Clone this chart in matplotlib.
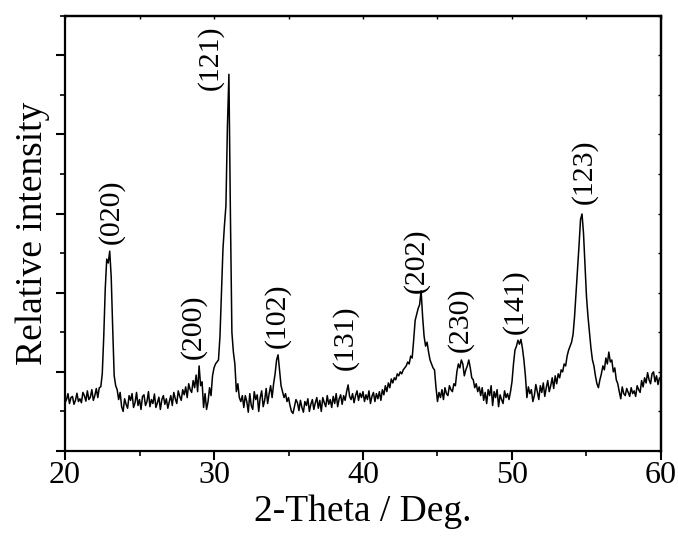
import numpy as np
import matplotlib
matplotlib.use("Agg")
import matplotlib.pyplot as plt
from matplotlib.ticker import MultipleLocator, NullFormatter

# XRD pattern, 2-theta from 20.0 to 60.0 deg in 0.1 deg steps
theta_start = 20.0
theta_step = 0.1
intensity = [
    1.22,1.30,1.45,1.20,1.35,1.38,1.18,1.28,1.46,1.25,   # 20
    1.32,1.22,1.48,1.40,1.26,1.52,1.30,1.36,1.55,1.28,   # 21
    1.40,1.58,1.35,1.60,1.62,1.95,2.90,4.10,4.85,4.75,   # 22
    5.05,4.40,3.10,1.90,1.65,1.55,1.30,1.48,1.12,1.00,   # 23
    1.32,1.18,1.08,1.40,1.28,1.45,1.10,1.22,1.48,1.15,   # 24
    1.30,1.05,1.38,1.42,1.15,1.25,1.50,1.12,1.30,1.20,   # 25
    1.44,1.10,1.22,1.36,1.05,1.30,1.40,1.18,1.32,1.08,   # 26
    1.25,1.40,1.15,1.48,1.32,1.20,1.52,1.38,1.28,1.55,   # 27
    1.42,1.62,1.35,1.70,1.55,1.48,1.78,1.60,1.92,1.50,   # 28
    2.15,1.65,1.75,1.10,1.45,1.05,1.25,1.60,1.40,1.90,   # 29
    2.10,2.20,2.25,2.30,2.90,4.00,5.10,5.70,6.20,8.20,   # 30
    9.52,6.00,3.00,2.50,2.20,1.50,1.70,1.35,1.25,1.40,   # 31
    1.10,1.40,1.25,0.98,1.45,1.15,1.05,1.50,1.30,1.42,   # 32
    1.00,1.35,1.52,1.12,1.28,1.58,1.20,1.45,1.65,1.35,   # 33
    1.70,1.95,2.30,2.43,2.05,1.65,1.50,1.35,1.45,1.25,   # 34
    1.35,1.15,1.00,0.95,1.12,1.30,1.22,1.02,1.28,1.10,   # 35
    0.98,1.25,1.15,1.32,1.00,1.18,1.30,1.05,1.22,1.35,   # 36
    1.08,1.28,1.00,1.35,1.22,1.12,1.40,1.18,1.30,1.10,   # 37
    1.38,1.20,1.45,1.12,1.32,1.42,1.18,1.40,1.28,1.50,   # 38
    1.67,1.38,1.30,1.45,1.22,1.40,1.52,1.28,1.46,1.35,   # 39
    1.50,1.25,1.42,1.30,1.52,1.20,1.38,1.48,1.25,1.45,   # 40
    1.32,1.50,1.28,1.55,1.42,1.65,1.50,1.72,1.60,1.82,   # 41
    1.72,1.85,1.80,1.95,1.90,2.00,1.95,2.05,2.10,2.15,   # 42
    2.25,2.20,2.40,2.35,2.80,3.30,3.45,3.60,3.70,4.05,   # 43
    3.40,2.90,2.65,2.75,2.50,2.30,2.20,2.10,2.05,1.60,   # 44
    1.25,1.48,1.35,1.55,1.30,1.60,1.45,1.40,1.65,1.55,   # 45
    1.50,1.70,1.65,2.00,2.20,2.10,2.30,2.20,1.90,2.05,   # 46
    2.15,2.30,2.10,1.85,1.80,1.60,1.70,1.50,1.62,1.40,   # 47
    1.60,1.28,1.48,1.20,1.55,1.40,1.65,1.15,1.50,1.35,   # 48
    1.55,1.12,1.42,1.30,1.20,1.52,1.35,1.45,1.30,1.50,   # 49
    1.75,2.20,2.55,2.65,2.80,2.70,2.82,2.60,2.30,1.90,   # 50
    1.35,1.62,1.45,1.55,1.25,1.40,1.68,1.50,1.30,1.65,   # 51
    1.48,1.72,1.38,1.60,1.78,1.50,1.65,1.85,1.58,1.90,   # 52
    1.70,1.95,1.85,2.05,2.00,2.20,2.15,2.40,2.55,2.65,   # 53
    2.75,2.95,3.40,4.00,4.60,5.20,5.85,5.99,5.50,4.70,   # 54
    3.90,3.40,3.00,2.60,2.30,2.15,1.90,1.70,1.60,1.80,   # 55
    1.95,2.15,2.05,2.35,2.20,2.50,2.25,2.30,2.00,2.10,   # 56
    1.80,1.70,1.50,1.32,1.62,1.45,1.40,1.58,1.48,1.38,   # 57
    1.60,1.45,1.52,1.38,1.65,1.55,1.48,1.78,1.62,1.85,   # 58
    1.72,1.98,1.80,1.70,1.95,2.00,1.75,1.90,1.68,1.85,   # 59
    1.82,                                                # 60
]
two_theta = theta_start + theta_step * np.arange(len(intensity))

# Peak labels (Miller indices) and their anchor positions (2-theta, intensity)
peak_labels = ["(020)", "(200)", "(121)", "(102)", "(131)", "(202)", "(230)", "(141)", "(123)"]
peak_label_x = [23.1, 28.6, 29.75, 34.25, 38.8, 43.55, 46.55, 50.25, 54.85]
peak_label_y = [6.04, 3.14, 9.93, 3.43, 2.86, 4.81, 3.32, 3.78, 7.07]

plt.rcParams['font.family'] = ['Liberation Serif', 'DejaVu Serif']

fig = plt.figure(figsize=(6.78, 5.38), dpi=100)
ax = fig.add_axes([0.0959, 0.1617, 0.879, 0.8091])

ax.plot(two_theta, intensity, color='black', lw=1.1)

for lab, lx, ly in zip(peak_labels, peak_label_x, peak_label_y):
    ax.text(lx, ly, lab, rotation=90, ha='center', va='center', fontsize=21.5)

ax.set_xlim(20, 60)
ax.set_ylim(0, 11)
ax.xaxis.set_major_locator(MultipleLocator(10))
ax.xaxis.set_minor_locator(MultipleLocator(5))
ax.yaxis.set_major_locator(MultipleLocator(2))
ax.yaxis.set_minor_locator(MultipleLocator(1))
ax.yaxis.set_major_formatter(NullFormatter())

for s in ax.spines.values():
    s.set_linewidth(1.6)

ax.tick_params(which='major', direction='out', length=6.5, width=1.5, labelsize=23, pad=1.0)
ax.tick_params(which='minor', direction='out', length=3.3, width=1.2)

# mirrored inward ticks on top and right
secx = ax.secondary_xaxis('top')
secx.xaxis.set_major_locator(MultipleLocator(10))
secx.xaxis.set_minor_locator(MultipleLocator(5))
secx.tick_params(which='both', direction='in', length=2.5, width=1.0, labeltop=False)
secx.spines['top'].set_linewidth(1.6)
secy = ax.secondary_yaxis('right')
secy.yaxis.set_major_locator(MultipleLocator(2))
secy.yaxis.set_minor_locator(MultipleLocator(1))
secy.tick_params(which='both', direction='in', length=2.5, width=1.0, labelright=False)
secy.spines['right'].set_linewidth(1.6)

ax.set_xlabel("2-Theta / Deg.", fontsize=27, labelpad=3)
ax.set_ylabel("Relative intensity", fontsize=27, labelpad=3)

fig.savefig("out.png", dpi=100)
